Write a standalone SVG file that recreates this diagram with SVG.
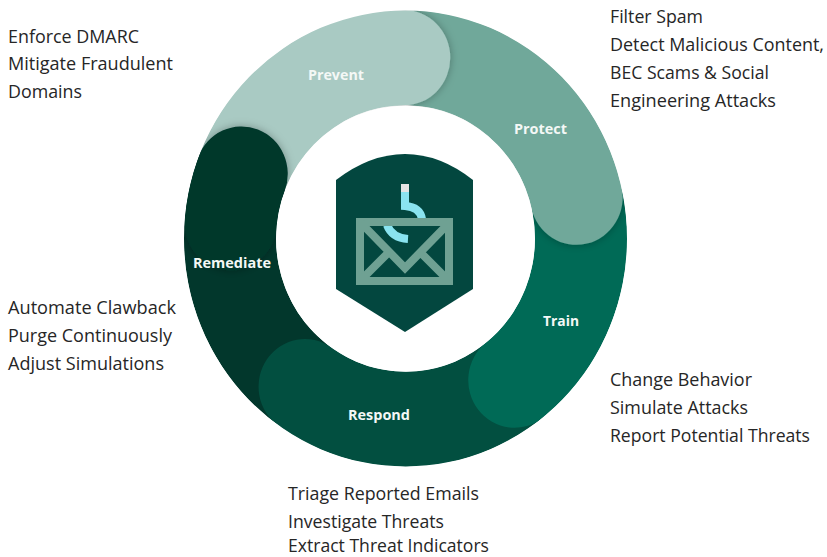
<svg xmlns="http://www.w3.org/2000/svg" width="827" height="557" viewBox="0 0 827 557">
<style>
.seg{fill:none;stroke-width:92.500;stroke-linecap:round}
.lab{font-family:"Open Sans","Liberation Sans",sans-serif;font-weight:700;font-size:14.500px;fill:#f4f8f6;text-anchor:start}
.txt{font-family:"Open Sans","Liberation Sans",sans-serif;font-size:18px;fill:#262626}
</style>
<defs>
<clipPath id="ring"><path clip-rule="evenodd" d="M184 238.500a221.500 228 0 1 0 443 0a221.500 228 0 1 0-443 0ZM276 238.500a129.500 133 0 1 0 259 0a129.500 133 0 1 0-259 0Z"/></clipPath>
<filter id="sh" filterUnits="userSpaceOnUse" x="-300" y="-300" width="600" height="600"><feDropShadow dx="0" dy="0" stdDeviation="4" flood-color="#000" flood-opacity=".3"/></filter>
</defs>
<rect width="827" height="557" fill="#fff"/>
<g id="connectors"/>
<g clip-path="url(#ring)"><g transform="translate(405.500 238.500) scale(1 1.030)">
<path class="seg" stroke="#02372c" d="M-108 138.300A175.500 175.500 0 0 1 -164 -62.600"/>
<g id="respond-band"><path class="seg" stroke="#024f40" d="M103.200 142A175.500 175.500 0 0 1 -100.700 143.800"/></g>
<g id="train-band"><path class="seg" stroke="#006a56" d="M172.800 -30.500A175.500 175.500 0 0 1 109 137.500"/></g>
<g id="protect-band"><path class="seg" stroke="#6fa89a" filter="url(#sh)" d="M9.200 -175.300A175.500 175.500 0 0 1 170.900 -40.100"/></g>
<g id="prevent-band"><path class="seg" stroke="#a9cac3" filter="url(#sh)" d="M-160.300 -71.400A175.500 175.500 0 0 1 -1.500 -175.500"/></g>
<g id="remediate-band"><path class="seg" stroke="#02372c" filter="url(#sh)" d="M-174.800 -15.300A175.500 175.500 0 0 1 -164 -62.600"/></g>
</g></g>
<g id="prevent"><text class="lab" x="308" y="79.500" textLength="56" lengthAdjust="spacingAndGlyphs">Prevent</text>
<text class="txt" x="8" y="42.500" textLength="131" lengthAdjust="spacingAndGlyphs">Enforce DMARC</text>
<text class="txt" x="8" y="70" textLength="165" lengthAdjust="spacingAndGlyphs">Mitigate Fraudulent</text>
<text class="txt" x="8" y="98" textLength="74" lengthAdjust="spacingAndGlyphs">Domains</text></g>
<g id="protect"><text class="lab" x="514" y="133.500" textLength="53" lengthAdjust="spacingAndGlyphs">Protect</text>
<text class="txt" x="610" y="23" textLength="93" lengthAdjust="spacingAndGlyphs">Filter Spam</text>
<text class="txt" x="610" y="51" textLength="214" lengthAdjust="spacingAndGlyphs">Detect Malicious Content,</text>
<text class="txt" x="610" y="79" textLength="159" lengthAdjust="spacingAndGlyphs">BEC Scams &amp; Social</text>
<text class="txt" x="610" y="107" textLength="166" lengthAdjust="spacingAndGlyphs">Engineering Attacks</text></g>
<g id="train"><text class="lab" x="543" y="325.500" textLength="36" lengthAdjust="spacingAndGlyphs">Train</text>
<text class="txt" x="610" y="386" textLength="142" lengthAdjust="spacingAndGlyphs">Change Behavior</text>
<text class="txt" x="610" y="414" textLength="138" lengthAdjust="spacingAndGlyphs">Simulate Attacks</text>
<text class="txt" x="610" y="442" textLength="200" lengthAdjust="spacingAndGlyphs">Report Potential Threats</text></g>
<g id="respond"><text class="lab" x="348" y="419.500" textLength="62" lengthAdjust="spacingAndGlyphs">Respond</text>
<text class="txt" x="288" y="500" textLength="191" lengthAdjust="spacingAndGlyphs">Triage Reported Emails</text>
<text class="txt" x="288" y="528" textLength="156" lengthAdjust="spacingAndGlyphs">Investigate Threats</text>
<text class="txt" x="288" y="551.500" textLength="201" lengthAdjust="spacingAndGlyphs">Extract Threat Indicators</text></g>
<g id="remediate"><text class="lab" x="193" y="267.500" textLength="78" lengthAdjust="spacingAndGlyphs">Remediate</text>
<text class="txt" x="8" y="314" textLength="168" lengthAdjust="spacingAndGlyphs">Automate Clawback</text>
<text class="txt" x="8" y="342" textLength="164" lengthAdjust="spacingAndGlyphs">Purge Continuously</text>
<text class="txt" x="8" y="370" textLength="156" lengthAdjust="spacingAndGlyphs">Adjust Simulations</text></g>
<g id="center-icon">
<path fill="#03473f" d="M336 180Q370 154 405 154T473 180V289L405 332L336 289Z"/>
<path fill="none" stroke="#8ae4f0" stroke-width="8" d="M405 190V206Q420 207 422 219M387 225Q392 238 408 239"/>
<rect x="401" y="184" width="8" height="8" fill="#e5e5e5"/>
<g fill="none" stroke="#6fa193" stroke-width="8"><rect x="360" y="222" width="89" height="59"/><path d="M361 223L405 268L449 223M360 281L388 253M449 281L421 253"/></g>
</g>
</svg>
